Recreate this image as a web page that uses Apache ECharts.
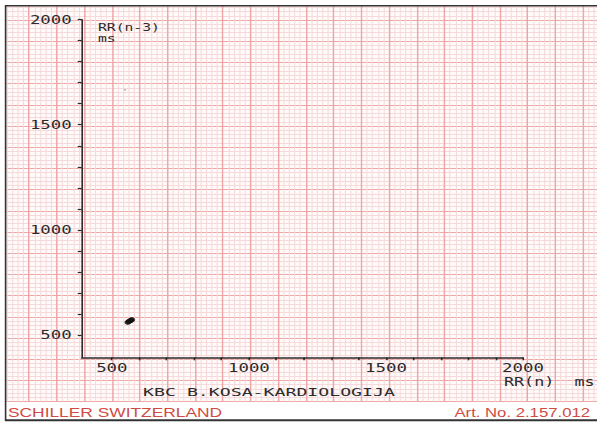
<!DOCTYPE html>
<html>
<head>
<meta charset="utf-8">
<title>RR(n) / RR(n-3)</title>
<script src="https://cdn.jsdelivr.net/npm/echarts@6/dist/echarts.min.js"></script>
<style>
  html, body { margin: 0; padding: 0; background: #fff; overflow: hidden; }
  /* the scan is stretched sideways, so the whole sheet is drawn narrow and widened */
  #chart { width: 446.7px; height: 422px; transform: scaleX(1.3365); transform-origin: 0 0; }
</style>
</head>
<body>
<div id="chart"></div>
<script>
// RR interval pairs (ms)
const rrN = [558, 562, 566, 570, 573];
const rrN3 = [561, 565, 568, 571, 574];
// faint stray point
const strayN = [548];
const strayN3 = [1666];

const tickValues = [500, 600, 700, 800, 900, 1000, 1100, 1200, 1300, 1400, 1500, 1600, 1700, 1800, 1900, 2000];
const labelValues = [500, 1000, 1500, 2000];

const SX = 1.3365;            // horizontal stretch of the scan
const px = v => v / SX;       // reference x pixels -> chart x pixels

const ink = '#2b2b2b';
const red = '#cf4b43';
const mono = '"DejaVu Sans Mono", monospace';
const major = '#eea6a6';
const minor = '#f6dada';

const chart = echarts.init(document.getElementById('chart'), null, { renderer: 'svg' });

const zip = (a, b) => a.map((v, i) => [v, b[i]]);
const plain = v => String(v);

const option = {
    animation: false,
    backgroundColor: '#ffffff',
    grid: [
        // ECG paper
        {
            left: px(1.2), width: px(609.4), top: -1.2, height: 402.8,
            outerBoundsMode: 'none',
            show: true, borderWidth: 0, backgroundColor: '#fffbfb'
        },
        // plot area
        {
            left: px(81.7), width: px(523 - 81.7), top: 19.5, height: 337.8,
            outerBoundsMode: 'none'
        }
    ],
    xAxis: [
        {
            gridIndex: 0, type: 'value', min: -4, max: 18, interval: 1,
            axisLine: { show: false }, axisTick: { show: false }, axisLabel: { show: false },
            minorTick: { show: false, splitNumber: 5 },
            splitLine: { show: true, lineStyle: { color: major, width: 1.1 } },
            minorSplitLine: { show: true, lineStyle: { color: minor, width: 0.8 } }
        },
        {
            gridIndex: 1, type: 'value', min: 390, max: 2000,
            axisLine: { show: true, onZero: false, lineStyle: { color: ink, width: 1.5 } },
            axisTick: { show: true, customValues: tickValues, length: 3, lineStyle: { color: ink, width: 1.2 } },
            axisLabel: { customValues: labelValues, formatter: plain, color: ink, fontFamily: mono, fontSize: 13, margin: 4 },
            splitLine: { show: false },
            name: 'RR(n)  ms',
            nameLocation: 'end',
            nameGap: px(-19),
            nameMoveOverlap: false,
            nameTextStyle: {
                color: ink, fontFamily: mono, fontSize: 12.5, lineHeight: 13,
                align: 'left', verticalAlign: 'top', padding: [18, 0, 0, 0]
            }
        }
    ],
    yAxis: [
        {
            gridIndex: 0, type: 'value', min: 0, max: 19, interval: 1,
            axisLine: { show: false }, axisTick: { show: false }, axisLabel: { show: false },
            minorTick: { show: false, splitNumber: 5 },
            splitLine: { show: true, lineStyle: { color: major, width: 1.1 } },
            minorSplitLine: { show: true, lineStyle: { color: minor, width: 0.8 } }
        },
        {
            gridIndex: 1, type: 'value', min: 395, max: 2000,
            axisLine: { show: true, onZero: false, lineStyle: { color: ink, width: 1.2 } },
            axisTick: { show: true, customValues: tickValues, length: 3, lineStyle: { color: ink, width: 1.2 } },
            axisLabel: { customValues: labelValues, formatter: plain, color: ink, fontFamily: mono, fontSize: 13,
                         margin: px(10), padding: [6, 0, 0, 0] },
            splitLine: { show: false },
            name: 'RR(n-3)\nms',
            nameLocation: 'end',
            nameGap: 0,
            nameMoveOverlap: false,
            nameTextStyle: {
                color: ink, fontFamily: mono, fontSize: 11, lineHeight: 11.5,
                align: 'left', verticalAlign: 'top', padding: [1.8, 0, 0, px(16.3)]
            }
        }
    ],
    series: [
        {
            type: 'scatter', xAxisIndex: 1, yAxisIndex: 1,
            data: zip(rrN, rrN3),
            symbol: 'circle', symbolSize: 5,
            itemStyle: { color: '#111' },
            silent: true
        },
        {
            type: 'scatter', xAxisIndex: 1, yAxisIndex: 1,
            data: zip(strayN, strayN3),
            symbol: 'circle', symbolSize: 2,
            itemStyle: { color: '#b5b5b5' },
            silent: true
        }
    ],
    graphic: [
        // white margins round the paper
        { type: 'rect', z: 100, shape: { x: 0, y: 0, width: px(597), height: 5 }, style: { fill: '#fff' } },
        { type: 'rect', z: 100, shape: { x: 0, y: 0, width: px(5), height: 422 }, style: { fill: '#fff' } },
        { type: 'rect', z: 100, shape: { x: 0, y: 402, width: px(597), height: 20 }, style: { fill: '#fff' } },
        // frame
        { type: 'line', z: 101, shape: { x1: px(5), y1: 5.7, x2: px(597), y2: 5.7 }, style: { stroke: '#333', lineWidth: 1.4 } },
        { type: 'line', z: 101, shape: { x1: px(5.6), y1: 5, x2: px(5.6), y2: 421 }, style: { stroke: '#333', lineWidth: 1.2 } },
        { type: 'line', z: 101, shape: { x1: px(5), y1: 420.2, x2: px(597), y2: 420.2 }, style: { stroke: '#333', lineWidth: 2 } },
        // printed header / footer
        {
            type: 'text', z: 102, x: px(269), y: 392, scaleX: 1.362,
            style: { text: 'KBC B.KOSA-KARDIOLOGIJA', fill: ink, font: '10px ' + mono,
                     textAlign: 'center', textVerticalAlign: 'middle' }
        },
        {
            type: 'text', z: 102, x: px(8), y: 412.5,
            style: { text: 'SCHILLER SWITZERLAND', fill: red, font: '13px "Liberation Sans", Arial, sans-serif',
                     textAlign: 'left', textVerticalAlign: 'middle' }
        },
        {
            type: 'text', z: 102, x: px(590), y: 412.5,
            style: { text: 'Art. No. 2.157.012', fill: red, font: '12.5px "Liberation Sans", Arial, sans-serif',
                     textAlign: 'right', textVerticalAlign: 'middle' }
        }
    ]
};

chart.setOption(option);
</script>
</body>
</html>
